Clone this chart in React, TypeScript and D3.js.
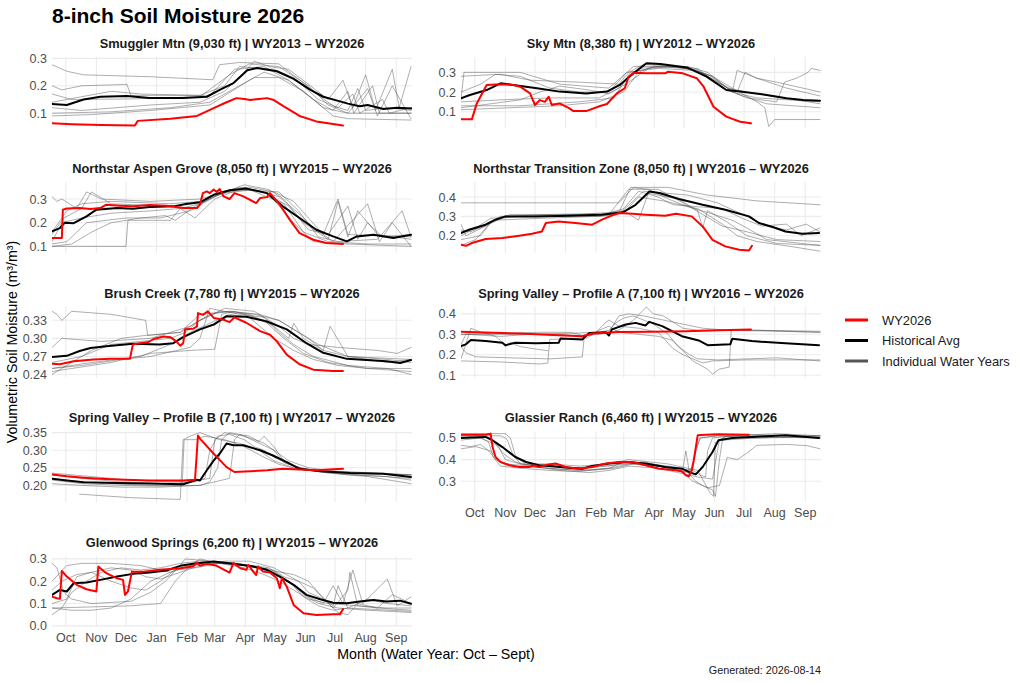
import * as d3 from "d3";

type Pt = [number, number]; // [day of water year (0 = Oct 1), VWC]

const monthLabels = ["Oct", "Nov", "Dec", "Jan", "Feb", "Mar", "Apr", "May", "Jun", "Jul", "Aug", "Sep"];
const monthTickDays = [14, 45, 75, 106, 137, 165, 196, 226, 257, 287, 318, 349];

const siteTitles = [
  "Smuggler Mtn (9,030 ft) | WY2013 – WY2026",
  "Sky Mtn (8,380 ft) | WY2012 – WY2026",
  "Northstar Aspen Grove (8,050 ft) | WY2015 – WY2026",
  "Northstar Transition Zone (8,050 ft) | WY2016 – WY2026",
  "Brush Creek (7,780 ft) | WY2015 – WY2026",
  "Spring Valley – Profile A (7,100 ft) | WY2016 – WY2026",
  "Spring Valley – Profile B (7,100 ft) | WY2017 – WY2026",
  "Glassier Ranch (6,460 ft) | WY2015 – WY2026",
  "Glenwood Springs (6,200 ft) | WY2015 – WY2026",
];

const yDomains: [number, number][] = [
  [0.046, 0.305], [0.017, 0.378], [0.073, 0.373], [0.112, 0.479], [0.235, 0.353],
  [0.089, 0.436], [0.152, 0.354], [0.203, 0.531], [-0.005, 0.313],
];
const yTicks = [
  [0.1, 0.2, 0.3], [0.1, 0.2, 0.3], [0.1, 0.2, 0.3], [0.2, 0.3, 0.4], [0.24, 0.27, 0.3, 0.33],
  [0.1, 0.2, 0.3, 0.4], [0.2, 0.25, 0.3, 0.35], [0.3, 0.4, 0.5], [0, 0.1, 0.2, 0.3],
];
const yTickDecimals = [1, 1, 1, 1, 2, 1, 2, 1, 1];

// ---- Smuggler Mtn
const smugglerWY2026: Pt[] = [[0,.063],[20,.06],[50,.057],[84,.055],[87,.072],[120,.08],[147,.09],[153,.1],[165,.12],[177,.14],[187,.155],[195,.152],[201,.148],[210,.152],[218,.155],[225,.148],[235,.125],[251,.09],[268,.07],[295,.055]];
const smugglerAvg: Pt[] = [[0,.134],[15,.13],[32,.15],[49,.16],[76,.163],[99,.155],[133,.155],[157,.16],[170,.185],[184,.21],[198,.257],[208,.265],[228,.253],[245,.225],[262,.185],[275,.16],[292,.143],[300,.135],[312,.125],[320,.13],[336,.115],[350,.12],[365,.117]];
const smugglerYears: Pt[][] = [
  [[0,.277],[15,.253],[32,.24],[100,.233],[163,.222],[170,.277],[190,.285],[230,.28],[251,.222],[272,.16],[286,.125],[300,.11],[310,.19],[318,.11],[340,.12],[364,.11]],
  [[0,.2],[10,.185],[30,.2],[76,.205],[80,.165],[160,.165],[185,.26],[215,.27],[240,.22],[265,.15],[285,.11],[300,.18],[306,.1],[325,.2],[332,.1],[364,.1]],
  [[0,.17],[20,.15],[80,.152],[150,.16],[180,.24],[200,.28],[230,.27],[260,.2],[280,.13],[300,.1],[364,.1]],
  [[0,.12],[30,.11],[100,.13],[150,.14],[175,.18],[195,.25],[205,.29],[220,.27],[240,.26],[262,.2],[280,.15],[295,.22],[305,.12],[318,.24],[328,.11],[345,.26],[352,.12],[364,.27]],
  [[0,.1],[60,.105],[120,.12],[160,.14],[190,.2],[205,.23],[230,.23],[255,.18],[275,.12],[300,.1],[320,.19],[330,.09],[345,.2],[364,.08]],
  [[0,.09],[40,.095],[100,.11],[160,.13],[200,.22],[215,.25],[240,.22],[265,.15],[285,.09],[300,.08],[364,.075]],
  [[0,.14],[30,.16],[60,.18],[90,.17],[150,.165],[175,.2],[190,.27],[225,.26],[245,.23],[270,.15],[290,.12],[305,.17],[312,.1],[335,.15],[342,.1],[364,.12]],
];

// ---- Sky Mtn
const skyWY2026: Pt[] = [[0,.061],[11,.061],[16,.142],[26,.236],[40,.24],[53,.236],[60,.227],[70,.193],[75,.134],[80,.159],[85,.15],[89,.176],[92,.134],[100,.142],[110,.117],[114,.103],[127,.103],[141,.129],[148,.139],[158,.193],[166,.219],[170,.278],[175,.298],[188,.295],[207,.295],[210,.303],[225,.295],[239,.27],[246,.227],[256,.125],[269,.075],[283,.049],[294,.041]];
const skyAvg: Pt[] = [[0,.168],[9,.185],[26,.21],[40,.244],[53,.236],[77,.219],[100,.202],[127,.193],[148,.202],[161,.236],[175,.295],[188,.346],[202,.342],[229,.325],[249,.278],[269,.21],[283,.202],[310,.185],[330,.168],[347,.159],[364,.156]];
const skyYears: Pt[][] = [
  [[0,.16],[3,.3],[60,.3],[80,.27],[100,.24],[150,.22],[175,.33],[230,.33],[250,.3],[275,.2],[300,.17],[364,.15]],
  [[0,.28],[40,.29],[70,.26],[120,.25],[160,.24],[170,.3],[185,.34],[220,.33],[250,.29],[270,.22],[300,.19],[340,.16],[364,.14]],
  [[0,.12],[30,.14],[60,.16],[80,.2],[100,.23],[130,.21],[150,.19],[170,.25],[190,.32],[215,.33],[240,.31],[260,.25],[280,.2],[288,.3],[300,.27],[320,.25],[364,.2]],
  [[0,.11],[50,.12],[100,.13],[140,.15],[165,.2],[180,.3],[195,.33],[230,.32],[255,.28],[275,.22],[300,.15],[308,.12],[312,.025],[318,.06],[364,.06]],
  [[0,.15],[40,.16],[90,.17],[140,.17],[160,.22],[172,.3],[200,.33],[240,.32],[265,.22],[290,.17],[320,.15],[328,.25],[340,.27],[352,.3],[355,.32],[364,.31]],
  [[0,.13],[60,.13],[120,.15],[155,.17],[168,.27],[180,.32],[210,.33],[240,.31],[260,.25],[280,.19],[310,.14],[364,.12]],
  [[0,.2],[20,.24],[35,.29],[60,.28],[90,.22],[120,.2],[150,.2],[168,.3],[200,.32],[235,.31],[255,.28],[275,.2],[280,.31],[300,.27],[330,.22],[364,.18]],
];

// ---- Northstar Aspen Grove
const aspenWY2026: Pt[] = [[0,.135],[10,.135],[11,.255],[15,.26],[28,.262],[39,.258],[49,.262],[55,.276],[69,.272],[82,.269],[99,.275],[116,.272],[133,.262],[147,.262],[150,.276],[153,.325],[157,.332],[160,.325],[164,.34],[167,.33],[170,.342],[174,.311],[180,.3],[185,.325],[194,.311],[207,.283],[211,.304],[218,.308],[221,.325],[231,.276],[241,.213],[251,.156],[265,.128],[278,.114],[295,.11]];
const aspenAvg: Pt[] = [[0,.163],[8,.177],[13,.2],[22,.198],[35,.227],[45,.255],[66,.262],[82,.259],[99,.266],[123,.269],[136,.279],[150,.286],[164,.318],[180,.337],[197,.344],[218,.325],[234,.269],[251,.22],[268,.17],[285,.142],[299,.121],[309,.142],[326,.149],[346,.135],[364,.149]];
const aspenYears: Pt[][] = [
  [[0,.31],[5,.29],[10,.3],[25,.26],[35,.33],[50,.3],[100,.29],[150,.3],[175,.33],[195,.36],[220,.34],[235,.3],[255,.2],[280,.13],[290,.29],[300,.14],[310,.25],[330,.15],[364,.13]],
  [[0,.1],[15,.1],[75,.1],[77,.21],[120,.21],[130,.26],[145,.22],[165,.3],[195,.35],[220,.32],[245,.2],[265,.12],[300,.11],[364,.1]],
  [[0,.12],[10,.2],[30,.22],[60,.24],[100,.25],[130,.26],[150,.28],[170,.32],[190,.35],[215,.33],[240,.27],[260,.17],[280,.15],[300,.27],[310,.13],[320,.2],[335,.14],[364,.15]],
  [[0,.16],[15,.25],[30,.28],[60,.29],[120,.28],[150,.29],[175,.33],[200,.35],[225,.33],[245,.29],[260,.22],[275,.15],[290,.3],[300,.15],[364,.14]],
  [[0,.11],[15,.12],[35,.2],[75,.22],[110,.22],[140,.25],[165,.31],[185,.34],[230,.33],[250,.25],[270,.14],[290,.12],[330,.13],[355,.25],[364,.14]],
  [[0,.15],[12,.22],[30,.26],[40,.33],[60,.28],[120,.27],[145,.26],[165,.32],[205,.34],[230,.31],[250,.24],[265,.18],[285,.12],[320,.28],[332,.12],[345,.2],[364,.1]],
  [[0,.1],[20,.11],[40,.16],[60,.2],[90,.22],[115,.23],[125,.21],[145,.27],[175,.33],[200,.34],[235,.28],[255,.16],[280,.12],[320,.11],[364,.11]],
];

// ---- Northstar Transition Zone
const transitionWY2026: Pt[] = [[0,.153],[5,.148],[11,.162],[25,.183],[42,.188],[59,.2],[72,.21],[82,.222],[86,.266],[99,.274],[116,.266],[133,.257],[143,.283],[152,.303],[160,.317],[174,.314],[187,.309],[207,.303],[218,.314],[234,.3],[245,.248],[255,.179],[268,.145],[282,.128],[292,.124],[295,.148]];
const transitionAvg: Pt[] = [[0,.214],[8,.231],[25,.257],[35,.283],[45,.3],[76,.3],[109,.303],[143,.309],[164,.321],[177,.36],[191,.429],[201,.421],[221,.39],[245,.36],[268,.334],[292,.3],[302,.266],[316,.245],[329,.222],[346,.21],[363,.214]];
const transitionYears: Pt[][] = [
  [[0,.37],[160,.37],[175,.45],[210,.45],[250,.41],[300,.38],[364,.36]],
  [[0,.2],[15,.24],[30,.29],[60,.3],[150,.31],[170,.44],[200,.44],[225,.37],[245,.31],[265,.25],[290,.22],[320,.18],[364,.17]],
  [[0,.15],[15,.18],[30,.27],[50,.31],[120,.31],[150,.32],[165,.33],[180,.28],[190,.42],[220,.39],[240,.33],[245,.24],[250,.33],[270,.27],[290,.2],[320,.16],[364,.15]],
  [[0,.26],[5,.2],[25,.25],[45,.3],[140,.3],[160,.31],[185,.43],[230,.41],[260,.37],[290,.3],[310,.25],[330,.23],[350,.26],[364,.22]],
  [[0,.18],[20,.2],[32,.28],[80,.29],[140,.3],[160,.32],[172,.45],[190,.44],[210,.39],[230,.35],[250,.32],[275,.28],[290,.24],[310,.18],[364,.15]],
  [[0,.22],[20,.24],[40,.3],[90,.31],[150,.315],[165,.32],[180,.4],[205,.38],[240,.34],[265,.26],[280,.2],[300,.17],[340,.14],[364,.12]],
  [[0,.23],[10,.22],[28,.27],[50,.3],[100,.305],[145,.31],[165,.34],[180,.43],[200,.4],[215,.36],[240,.35],[265,.34],[285,.29],[305,.25],[330,.26],[345,.2],[364,.24]],
];

// ---- Brush Creek
const brushWY2026: Pt[] = [[0,.258],[8,.257],[22,.262],[42,.265],[59,.266],[79,.266],[82,.29],[89,.292],[98,.294],[103,.299],[113,.303],[120,.302],[126,.295],[130,.288],[133,.292],[135,.315],[143,.316],[147,.32],[148,.342],[153,.339],[158,.345],[164,.334],[174,.331],[180,.327],[185,.335],[197,.326],[211,.312],[221,.306],[228,.295],[238,.273],[251,.257],[265,.248],[285,.246],[295,.246]];
const brushAvg: Pt[] = [[0,.269],[15,.271],[28,.279],[39,.284],[55,.287],[82,.291],[109,.29],[123,.292],[133,.302],[150,.315],[164,.323],[177,.337],[197,.336],[218,.328],[238,.315],[258,.292],[275,.276],[299,.266],[319,.264],[339,.262],[353,.259],[364,.264]];
const brushYears: Pt[][] = [
  [[0,.345],[5,.34],[10,.33],[20,.345],[60,.34],[95,.33],[97,.305],[130,.31],[150,.34],[180,.345],[210,.34],[230,.33],[250,.31],[270,.29],[300,.27],[364,.265]],
  [[0,.26],[30,.27],[60,.29],[120,.3],[135,.31],[150,.33],[170,.345],[200,.34],[225,.32],[240,.3],[245,.325],[255,.3],[275,.28],[282,.32],[300,.27],[340,.26],[364,.265]],
  [[0,.245],[20,.25],[60,.26],[100,.275],[140,.28],[165,.282],[172,.34],[185,.345],[215,.33],[235,.3],[255,.275],[280,.26],[320,.25],[364,.245]],
  [[0,.25],[30,.255],[70,.265],[100,.27],[140,.285],[150,.3],[160,.35],[190,.34],[215,.335],[230,.31],[245,.29],[265,.27],[300,.255],[340,.25],[364,.24]],
  [[0,.24],[20,.26],[40,.28],[70,.3],[95,.305],[130,.31],[150,.33],[175,.35],[205,.345],[230,.32],[245,.3],[260,.29],[290,.285],[330,.28],[350,.275],[364,.285]],
  [[0,.285],[10,.3],[50,.295],[100,.3],[120,.31],[140,.32],[160,.34],[180,.345],[205,.34],[230,.33],[245,.315],[260,.3],[275,.28],[300,.27],[340,.265],[364,.26]],
  [[0,.25],[40,.26],[90,.27],[120,.29],[140,.31],[160,.325],[180,.34],[200,.335],[225,.3],[245,.28],[265,.265],[290,.255],[320,.25],[364,.25]],
];

// ---- Spring Valley – Profile A
const springAWY2026: Pt[] = [[0,.312],[59,.304],[99,.296],[123,.291],[133,.304],[160,.311],[194,.312],[228,.315],[261,.32],[294,.324]];
const springAAvg: Pt[] = [[0,.243],[5,.251],[10,.272],[25,.267],[42,.259],[45,.247],[55,.259],[76,.256],[99,.259],[101,.28],[123,.275],[130,.307],[147,.31],[150,.294],[153,.324],[167,.348],[177,.356],[187,.343],[191,.361],[204,.34],[224,.291],[241,.27],[250,.247],[273,.251],[275,.278],[295,.267],[329,.256],[363,.247]];
const springAYears: Pt[][] = [
  [[0,.17],[40,.165],[80,.155],[88,.16],[90,.275],[120,.28],[130,.3],[150,.31],[160,.39],[170,.4],[185,.39],[205,.37],[225,.35],[245,.33],[270,.32],[320,.315],[364,.31]],
  [[0,.24],[5,.21],[15,.19],[50,.185],[90,.18],[123,.19],[125,.29],[135,.3],[145,.35],[150,.37],[160,.34],[180,.33],[200,.31],[215,.23],[225,.2],[245,.16],[255,.17],[290,.175],[330,.175],[364,.175]],
  [[0,.18],[10,.33],[20,.31],[35,.29],[40,.27],[45,.24],[50,.26],[60,.24],[80,.225],[88,.22]],
  [[0,.3],[40,.305],[80,.31],[110,.31],[120,.3],[127,.28],[140,.32],[150,.34],[160,.31],[180,.3],[200,.29],[215,.27],[225,.22],[235,.17],[250,.13],[255,.105],[262,.13],[272,.14],[274,.32],[300,.32],[364,.31]],
  [[0,.25],[5,.3],[40,.29],[70,.3],[100,.3],[120,.29],[140,.3],[160,.32],[175,.37],[188,.434],[195,.4],[205,.39],[215,.36],[225,.33],[240,.32],[300,.32],[364,.315]],
  [[0,.3],[60,.3],[110,.305],[140,.31],[150,.32],[158,.36],[165,.38],[175,.39],[195,.35],[210,.3],[220,.24],[232,.2],[240,.18],[260,.175],[290,.18],[320,.185],[364,.17]],
];

// ---- Spring Valley – Profile B
const springBWY2026: Pt[] = [[0,.231],[15,.226],[32,.222],[49,.219],[66,.217],[99,.214],[133,.214],[145,.216],[148,.342],[150,.333],[164,.29],[177,.252],[185,.238],[201,.24],[218,.243],[234,.247],[251,.245],[268,.243],[285,.246],[295,.247]];
const springBAvg: Pt[] = [[0,.219],[15,.214],[32,.209],[66,.207],[99,.205],[133,.203],[147,.216],[150,.214],[157,.243],[164,.271],[170,.29],[177,.319],[184,.314],[194,.314],[211,.3],[224,.285],[238,.266],[251,.247],[272,.24],[302,.235],[336,.233],[364,.224]];
const springBYears: Pt[][] = [
  [[0,.22],[30,.21],[60,.205],[100,.2],[132,.2],[134,.33],[145,.33],[155,.34],[175,.33],[195,.31],[215,.28],[230,.26],[250,.245],[280,.24],[320,.235],[364,.23]],
  [[28,.175],[80,.165],[130,.16],[133,.33],[140,.34],[150,.35],[170,.33],[190,.32],[210,.3],[225,.27],[245,.25],[270,.24],[310,.23],[364,.22]],
  [[0,.235],[40,.225],[80,.215],[120,.21],[150,.215],[160,.22],[165,.33],[175,.35],[195,.34],[210,.32],[225,.3],[240,.27],[260,.25],[290,.24],[330,.235],[364,.23]],
  [[0,.215],[30,.205],[70,.2],[110,.198],[150,.2],[165,.21],[180,.22],[185,.33],[190,.345],[205,.33],[215,.32],[225,.3],[235,.265],[250,.25],[270,.24],[300,.23],[340,.225],[364,.215]],
  [[0,.23],[30,.22],[70,.21],[110,.205],[145,.21],[155,.22],[160,.3],[168,.34],[180,.345],[195,.33],[205,.31],[215,.3],[225,.28],[240,.26],[260,.245],[300,.235],[364,.23]],
  [[0,.205],[30,.2],[70,.195],[110,.195],[150,.2],[160,.21],[168,.25],[172,.33],[180,.35],[200,.34],[210,.325],[215,.34],[225,.31],[235,.27],[255,.245],[280,.235],[320,.225],[364,.205]],
];

// ---- Glassier Ranch
const glassierWY2026: Pt[] = [[0,.515],[11,.515],[25,.515],[30,.52],[32,.458],[35,.412],[40,.389],[49,.374],[59,.366],[69,.366],[74,.374],[79,.366],[89,.378],[96,.382],[106,.366],[120,.358],[133,.366],[147,.382],[160,.389],[174,.389],[187,.374],[201,.358],[218,.351],[224,.346],[228,.328],[231,.323],[234,.351],[236,.397],[240,.512],[248,.515],[261,.517],[292,.515]];
const glassierAvg: Pt[] = [[0,.5],[25,.505],[32,.489],[42,.458],[55,.412],[66,.389],[79,.374],[93,.369],[109,.362],[123,.358],[133,.371],[150,.382],[167,.389],[187,.382],[207,.366],[224,.358],[231,.343],[238,.332],[245,.366],[255,.435],[261,.489],[275,.5],[295,.505],[329,.512],[363,.5]];
const glassierYears: Pt[][] = [
  [[0,.51],[40,.51],[45,.5],[47,.49],[52,.43],[60,.38],[80,.37],[110,.36],[140,.37],[170,.38],[200,.37],[220,.35],[230,.34],[238,.3],[245,.28],[255,.26],[258,.23],[262,.4],[265,.49],[300,.5],[364,.51]],
  [[0,.466],[10,.46],[20,.47],[28,.44],[35,.4],[45,.38],[70,.37],[100,.35],[130,.34],[150,.35],[170,.37],[200,.36],[220,.34],[230,.33],[240,.32],[255,.31],[262,.49],[290,.51],[330,.51],[364,.5]],
  [[0,.45],[15,.46],[30,.44],[40,.39],[55,.37],[90,.36],[120,.35],[150,.36],[165,.39],[190,.38],[210,.36],[225,.34],[235,.3],[245,.28],[250,.27],[262,.28],[270,.41],[280,.4],[290,.43],[300,.466],[330,.47],[350,.465],[364,.45]],
  [[0,.5],[15,.51],[30,.5],[38,.46],[45,.4],[60,.38],[100,.37],[120,.36],[150,.37],[170,.39],[190,.38],[210,.37],[225,.36],[228,.44],[232,.33],[242,.5],[260,.51],[300,.5],[364,.505]],
  [[0,.49],[20,.5],[28,.48],[33,.41],[40,.37],[60,.36],[90,.35],[120,.345],[150,.36],[170,.38],[185,.39],[205,.37],[220,.36],[235,.35],[242,.33],[248,.32],[250,.44],[255,.5],[290,.515],[364,.51]],
  [[0,.52],[30,.52],[45,.52],[50,.5],[55,.42],[65,.38],[90,.38],[120,.37],[150,.38],[170,.4],[190,.39],[210,.38],[225,.365],[240,.35],[246,.3],[252,.25],[256,.23],[258,.48],[270,.51],[320,.52],[364,.51]],
  [[0,.505],[20,.5],[35,.47],[45,.42],[55,.39],[70,.37],[100,.355],[130,.35],[155,.36],[175,.38],[200,.37],[215,.36],[225,.34],[235,.36],[238,.45],[243,.5],[260,.51],[364,.5]],
];

// ---- Glenwood Springs
const glenwoodWY2026: Pt[] = [[0,.131],[5,.124],[8,.121],[10,.246],[15,.221],[25,.184],[35,.164],[45,.154],[47,.266],[55,.236],[66,.213],[72,.206],[74,.139],[77,.154],[81,.243],[93,.243],[109,.251],[130,.258],[143,.266],[147,.284],[150,.269],[157,.278],[167,.269],[180,.239],[184,.281],[191,.258],[197,.251],[199,.273],[204,.243],[207,.228],[209,.266],[214,.243],[221,.239],[228,.213],[231,.169],[233,.213],[238,.176],[245,.094],[255,.057],[268,.049],[285,.052],[292,.052],[295,.075]];
const glenwoodAvg: Pt[] = [[0,.139],[8,.161],[15,.154],[22,.191],[35,.194],[49,.206],[66,.221],[82,.233],[99,.239],[116,.248],[130,.269],[143,.278],[164,.288],[184,.278],[204,.266],[218,.251],[231,.221],[245,.184],[258,.139],[272,.119],[285,.104],[299,.101],[312,.109],[326,.116],[339,.109],[353,.113],[364,.099]];
const glenwoodYears: Pt[][] = [
  [[0,.28],[5,.26],[12,.15],[20,.12],[40,.1],[80,.11],[100,.15],[115,.2],[130,.27],[135,.3],[160,.29],[190,.28],[215,.25],[240,.2],[260,.13],[275,.1],[285,.18],[295,.1],[305,.25],[315,.1],[340,.21],[350,.09],[364,.13]],
  [[0,.08],[40,.085],[80,.09],[110,.1],[125,.2],[140,.27],[170,.28],[200,.27],[225,.24],[240,.2],[255,.14],[270,.1],[290,.08],[320,.07],[364,.06]],
  [[0,.2],[15,.27],[30,.28],[60,.28],[90,.27],[110,.25],[120,.24],[130,.26],[150,.28],[180,.28],[205,.27],[220,.26],[240,.2],[255,.13],[270,.09],[285,.07],[300,.08],[364,.065]],
  [[0,.05],[10,.08],[20,.15],[35,.2],[50,.24],[70,.26],[90,.25],[110,.26],[130,.28],[150,.29],[175,.28],[200,.27],[225,.25],[235,.22],[250,.2],[265,.17],[280,.1],[290,.06],[300,.05],[310,.1],[330,.08],[364,.07]],
  [[0,.1],[15,.12],[25,.22],[40,.24],[60,.2],[80,.17],[95,.16],[110,.2],[125,.25],[145,.26],[170,.28],[195,.27],[220,.25],[245,.23],[260,.2],[270,.15],[285,.08],[300,.16],[302,.24],[310,.09],[330,.08],[345,.14],[364,.1]],
  [[0,.08],[20,.07],[40,.07],[60,.08],[80,.12],[100,.2],[120,.24],[140,.27],[150,.3],[170,.28],[195,.26],[215,.23],[230,.2],[245,.16],[260,.12],[280,.1],[310,.09],[340,.08],[364,.08]],
  [[0,.16],[10,.2],[25,.23],[40,.24],[60,.26],[80,.25],[95,.22],[110,.21],[130,.24],[150,.27],[175,.29],[200,.29],[225,.26],[250,.2],[260,.15],[275,.12],[285,.09],[290,.18],[300,.08],[320,.12],[340,.1],[364,.09]],
];

const wy2026Series = [smugglerWY2026, skyWY2026, aspenWY2026, transitionWY2026, brushWY2026, springAWY2026, springBWY2026, glassierWY2026, glenwoodWY2026];
const avgSeries = [smugglerAvg, skyAvg, aspenAvg, transitionAvg, brushAvg, springAAvg, springBAvg, glassierAvg, glenwoodAvg];
const yearSeries = [smugglerYears, skyYears, aspenYears, transitionYears, brushYears, springAYears, springBYears, glassierYears, glenwoodYears];

const FONT = '"Liberation Sans", Arial, Helvetica, sans-serif';
const W = 1024;
const H = 683;
const PANEL_W = 360;
const PANEL_H = 71;
const COL_X = [52, 461];
const ROW_TOP = 57;
const ROW_STEP = 124.75;
const GRID = "#EBEBEB";

function Panel({ i }: { i: number }) {
  const col = i % 2;
  const row = Math.floor(i / 2);
  const x0 = COL_X[col];
  const top = ROW_TOP + row * ROW_STEP;
  const x = d3.scaleLinear().domain([0, 365]).range([x0, x0 + PANEL_W]);
  const y = d3.scaleLinear().domain(yDomains[i]).range([top + PANEL_H, top]);
  const line = d3.line<Pt>().x((d) => x(d[0])).y((d) => y(d[1]));
  const fmt = d3.format(`.${yTickDecimals[i]}f`);
  const showX = i >= 7; // last panel in each column

  return (
    <g>
      <clipPath id={`clip${i}`}>
        <rect x={x0} y={top} width={PANEL_W} height={PANEL_H} />
      </clipPath>
      <text x={x0 + PANEL_W / 2} y={top - 9} textAnchor="middle" fontWeight="bold" fontSize={12.8} fill="#1A1A1A">
        {siteTitles[i]}
      </text>
      {monthTickDays.map((d) => (
        <line key={`v${d}`} x1={x(d)} x2={x(d)} y1={top} y2={top + PANEL_H} stroke={GRID} strokeWidth={1.07} />
      ))}
      {yTicks[i].map((t) => (
        <line key={`h${t}`} x1={x0} x2={x0 + PANEL_W} y1={y(t)} y2={y(t)} stroke={GRID} strokeWidth={1.07} />
      ))}
      {yTicks[i].map((t) => (
        <text key={`t${t}`} x={x0 - 5} y={y(t)} dy="0.36em" textAnchor="end" fontSize={12.5} fill="#4D4D4D">
          {fmt(t)}
        </text>
      ))}
      <g clipPath={`url(#clip${i})`} fill="none" strokeLinejoin="round" strokeLinecap="round">
        {yearSeries[i].map((s, k) => (
          <path key={k} d={line(s) ?? ""} stroke="#4D4D4D" strokeOpacity={0.65} strokeWidth={0.7} />
        ))}
        <path d={line(avgSeries[i]) ?? ""} stroke="#000000" strokeWidth={2} />
        <path d={line(wy2026Series[i]) ?? ""} stroke="#FF0000" strokeWidth={2} />
      </g>
      {showX &&
        monthLabels.map((m, k) => (
          <text key={m} x={x(monthTickDays[k])} y={top + PANEL_H + 14.5} textAnchor="middle" fontSize={12.5} fill="#4D4D4D">
            {m}
          </text>
        ))}
    </g>
  );
}

const legendItems = [
  { label: "WY2026", color: "#FF0000" },
  { label: "Historical Avg", color: "#000000" },
  { label: "Individual Water Years", color: "#555555" },
];

export default function App() {
  return (
    <svg width={W} height={H} style={{ position: "absolute", left: 0, top: 0, background: "#fff" }} fontFamily={FONT}>
      <rect width={W} height={H} fill="#fff" />
      <text x={52} y={23} fontSize={21} fontWeight="bold" fill="#000">
        8-inch Soil Moisture 2026
      </text>
      {siteTitles.map((_, i) => (
        <Panel key={i} i={i} />
      ))}
      <text x={436} y={659} textAnchor="middle" fontSize={14.2} fill="#000">
        Month (Water Year: Oct – Sept)
      </text>
      <text transform="translate(17,342) rotate(-90)" textAnchor="middle" fontSize={14.2} fill="#000">
        Volumetric Soil Moisture (m³/m³)
      </text>
      {legendItems.map((d, k) => (
        <g key={d.label} transform={`translate(845,${320 + k * 20.5})`}>
          <line x1={0} x2={23} y1={0} y2={0} stroke={d.color} strokeWidth={3} />
          <text x={37} y={0} dy="0.36em" fontSize={12.9} fill="#1A1A1A">
            {d.label}
          </text>
        </g>
      ))}
      <text x={821} y={674} textAnchor="end" fontSize={10.8} fill="#1A1A1A">
        Generated: 2026-08-14
      </text>
    </svg>
  );
}
